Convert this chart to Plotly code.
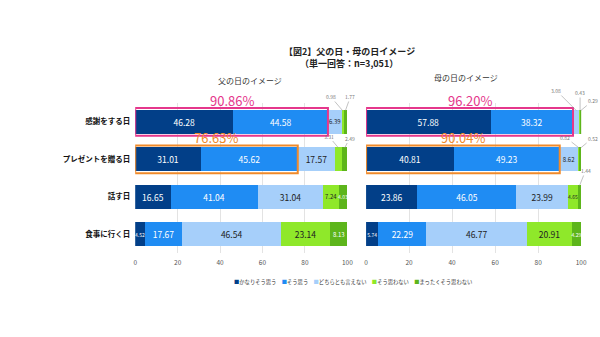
import plotly.graph_objects as go

categories = ["感謝をする日", "プレゼントを贈る日", "話す日", "食事に行く日"]
series_names = ["かなりそう思う", "そう思う", "どちらとも言えない", "そう思わない", "まったくそう思わない"]
father = [
    [46.28, 31.01, 16.65, 4.52],
    [44.58, 45.62, 41.04, 17.67],
    [6.39, 17.57, 31.04, 46.54],
    [0.98, 3.31, 7.24, 23.14],
    [1.77, 2.49, 4.03, 8.13],
]
mother = [
    [57.88, 40.81, 23.86, 5.74],
    [38.32, 49.23, 46.05, 22.29],
    [3.08, 8.62, 23.99, 46.77],
    [0.43, 0.82, 4.65, 20.91],
    [0.29, 0.52, 1.44, 4.29],
]
tick_vals = [0, 20, 40, 60, 80, 100]
colors = ["#023f88", "#1f8cf3", "#a6cffa", "#8fe82a", "#5db51b"]
text_colors = ["white", "white", "#222222", "#222222", "white"]
highlight_rows = [0, 1]
highlight_colors = ["#e5378c", "#f08a2a"]

FONT = "Noto Sans CJK JP"
fig = go.Figure()

def add_panel(data, xa, ya):
    for s, name in enumerate(series_names):
        vals = data[s]
        texts = [f"{v:.2f}" if v >= 4 else "" for v in vals]
        sizes = [8.5 if v >= 10 else (6 if v >= 6 else 5) for v in vals]
        fig.add_trace(go.Bar(
            x=vals, y=categories, orientation="h", name=name,
            marker=dict(color=colors[s], line=dict(width=0)),
            text=texts, textposition="inside", insidetextanchor="middle",
            textfont=dict(color=text_colors[s], size=sizes, family=FONT),
            textangle=0, constraintext="none",
            xaxis=xa, yaxis=ya, showlegend=False, hoverinfo="x+name",
        ))

add_panel(father, "x", "y")
add_panel(mother, "x2", "y2")

shapes = []
annotations = []
for data, xr, yr in [(father, "x", "y"), (mother, "x2", "y2")]:
    for k, r in enumerate(highlight_rows):
        tot = data[0][r] + data[1][r]
        shapes.append(dict(type="rect", xref=xr, yref=yr, x0=0, x1=tot,
                           y0=r - 0.37, y1=r + 0.37,
                           line=dict(color=highlight_colors[k], width=2)))
        annotations.append(dict(xref=xr, yref=yr, x=tot / 2, y=r - 0.37,
                                text=f"{tot:.2f}%", showarrow=False, yanchor="bottom",
                                yshift=-4, font=dict(size=13, color=highlight_colors[k], family=FONT)))

# small outside labels with leader lines
def leader(data, xr, yr, s, r, ax, ay):
    start = sum(data[i][r] for i in range(s))
    v = data[s][r]
    annotations.append(dict(xref=xr, yref=yr, x=start + v / 2, y=r - 0.3,
                            text=f"{v:.2f}", showarrow=True, arrowhead=0, arrowwidth=0.6,
                            arrowcolor="#999999", ax=ax, ay=ay,
                            font=dict(size=5, color="#777777", family=FONT)))

leader(father, "x", "y", 3, 0, -12, -14)
leader(father, "x", "y", 4, 0, 5, -14)
leader(father, "x", "y", 3, 1, -10, -12)
leader(father, "x", "y", 4, 1, 5, -10)
leader(mother, "x2", "y2", 2, 0, -20, -20)
leader(mother, "x2", "y2", 3, 0, 0, -18)
leader(mother, "x2", "y2", 4, 0, 12, -10)
leader(mother, "x2", "y2", 3, 1, -14, -11)
leader(mother, "x2", "y2", 4, 1, 12, -10)
leader(mother, "x2", "y2", 4, 2, 6, -15)

legend_html = "　".join(
    f"<span style='color:{c}'>■</span>{n}" for c, n in zip(colors, series_names)
)

annotations += [
    dict(xref="paper", yref="paper", x=352 / 600, y=1 - 51 / 337, text="<b>【図2】父の日・母の日イメージ</b>",
         xanchor="center", yanchor="middle", showarrow=False,
         font=dict(size=9, color="#222", family=FONT)),
    dict(xref="paper", yref="paper", x=352 / 600, y=1 - 63 / 337, text="<b>（単一回答：n=3,051）</b>",
         xanchor="center", yanchor="middle", showarrow=False,
         font=dict(size=9, color="#222", family=FONT)),
    dict(xref="paper", yref="paper", x=251 / 600, y=1 - 81 / 337, text="父の日のイメージ",
         xanchor="center", yanchor="middle", showarrow=False,
         font=dict(size=8, color="#333", family=FONT)),
    dict(xref="paper", yref="paper", x=470 / 600, y=1 - 77 / 337, text="母の日のイメージ",
         xanchor="center", yanchor="middle", showarrow=False,
         font=dict(size=8, color="#333", family=FONT)),
    dict(xref="paper", yref="paper", x=356 / 600, y=1 - 282 / 337, text=legend_html,
         xanchor="center", yanchor="middle", showarrow=False,
         font=dict(size=5.3, color="#333", family=FONT)),
]

ydom = [1 - 253 / 337, 1 - 103 / 337]
axis_common = dict(range=[0, 100], tickvals=tick_vals, showgrid=True, gridcolor="#e3e3e3",
                   gridwidth=1, zeroline=False, showline=False,
                   tickfont=dict(size=6.5, color="#555", family=FONT), ticks="",
                   ticklabelstandoff=4)
fig.update_layout(
    width=600, height=337, margin=dict(l=0, r=0, t=0, b=0),
    paper_bgcolor="white", plot_bgcolor="white", barmode="stack", bargap=0.35,
    font=dict(family=FONT), showlegend=False,
    xaxis=dict(domain=[135 / 600, 350 / 600], anchor="y", **axis_common),
    xaxis2=dict(domain=[369 / 600, 587 / 600], anchor="y2", **axis_common),
    yaxis=dict(domain=ydom, anchor="x", categoryorder="array", categoryarray=categories,
               autorange="reversed", tickfont=dict(size=7.5, color="#111", family=FONT),
               ticks="", showgrid=False, ticklabelstandoff=4,
               tickmode="array", tickvals=categories,
               ticktext=[f"<b>{c}</b>" for c in categories]),
    yaxis2=dict(domain=ydom, anchor="x2", categoryorder="array", categoryarray=categories,
                autorange="reversed", showticklabels=False, showgrid=False),
    shapes=shapes, annotations=annotations,
)
fig.write_html("out.html")
